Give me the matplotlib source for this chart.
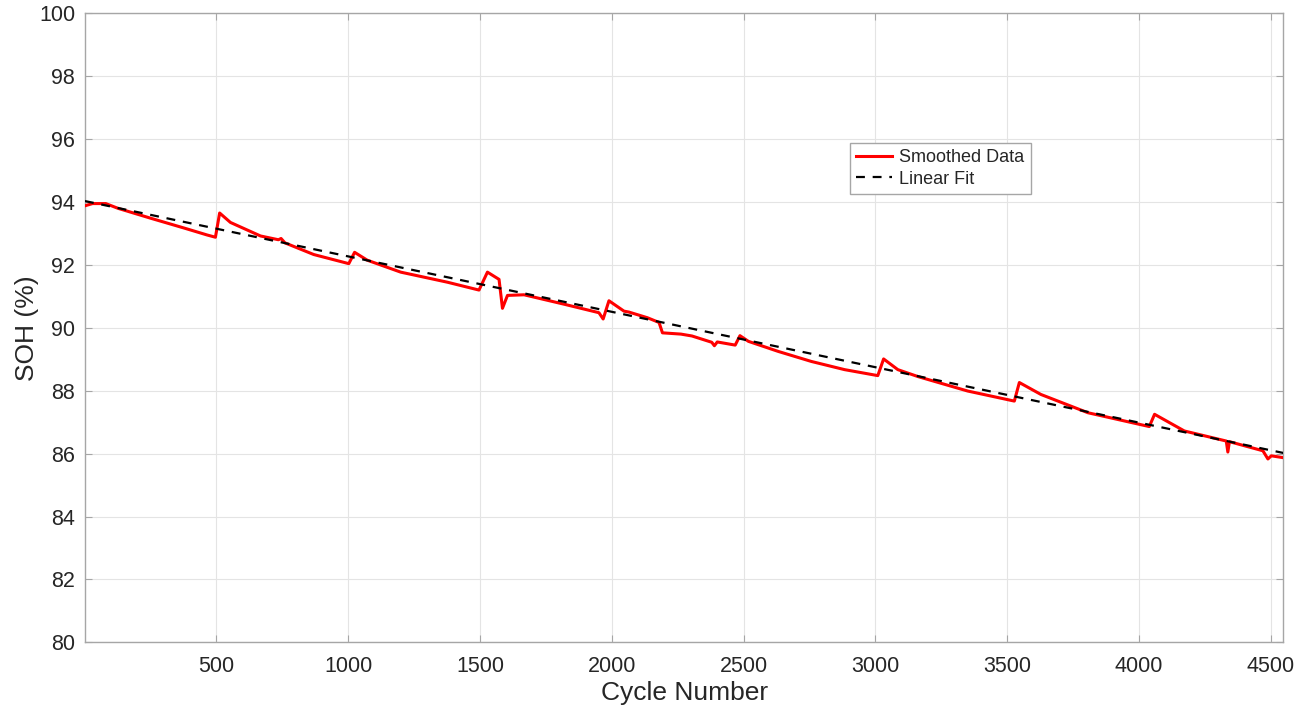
import matplotlib
matplotlib.use("Agg")
import matplotlib.pyplot as plt

plt.rcParams["font.family"] = ["Liberation Sans", "DejaVu Sans"]

# ── 数据 ─────────────────────────────────────────────────
cycles = [1, 30, 80, 126, 252, 378, 465, 496, 512, 553, 667, 735, 745, 760,
          869, 1002, 1024, 1072, 1199, 1376, 1496, 1528, 1572, 1585, 1604,
          1667, 1819, 1951, 1967, 1989, 2046, 2065, 2135, 2179, 2192, 2262,
          2304, 2379, 2389, 2400, 2468, 2486, 2518, 2631, 2757, 2883, 3009,
          3031, 3085, 3161, 3350, 3527, 3546, 3628, 3806, 4039, 4059, 4172,
          4331, 4337, 4343, 4470, 4489, 4502, 4548]
soh = [93.88, 93.95, 93.95, 93.80, 93.48, 93.17, 92.95, 92.88, 93.65, 93.35,
       92.92, 92.80, 92.84, 92.70, 92.33, 92.04, 92.40, 92.15, 91.77, 91.45,
       91.20, 91.77, 91.54, 90.62, 91.03, 91.05, 90.75, 90.48, 90.28, 90.86,
       90.53, 90.50, 90.32, 90.17, 89.84, 89.80, 89.74, 89.54, 89.43, 89.55,
       89.45, 89.75, 89.57, 89.25, 88.93, 88.67, 88.48, 89.01, 88.67, 88.45,
       87.99, 87.67, 88.26, 87.88, 87.30, 86.86, 87.25, 86.72, 86.40, 86.05,
       86.38, 86.09, 85.83, 85.93, 85.87]

fit_x = [1, 4548]
fit_y = [94.03, 86.02]

x_ticks = [500, 1000, 1500, 2000, 2500, 3000, 3500, 4000, 4500]
y_ticks = list(range(80, 101, 2))

# ── 绘图 ────────────────────────────────────────────────────────
fig = plt.figure(figsize=(13.13, 7.11), dpi=100)
ax = fig.add_axes([0.0647, 0.0966, 0.9128, 0.8847])

ax.plot(cycles, soh, color="#ff0000", linewidth=2.2, label="Smoothed Data", zorder=3)
ax.plot(fit_x, fit_y, color="black", linewidth=1.6, linestyle=(0, (4, 3.5)),
        label="Linear Fit", zorder=4)

ax.set_xlim(1, 4548)
ax.set_ylim(80, 100)
ax.set_xticks(x_ticks)
ax.set_yticks(y_ticks)

ax.grid(True, color="#e4e4e4", linewidth=0.8)
ax.set_axisbelow(True)
for s in ax.spines.values():
    s.set_color("#a6a6a6")
    s.set_linewidth(1.0)
ax.tick_params(direction="in", top=True, right=True, length=5,
               color="#a6a6a6", labelsize=15.5, labelcolor="#262626")
ax.tick_params(axis="x", pad=10)
ax.tick_params(axis="y", pad=7)

ax.set_xlabel("Cycle Number", fontsize=19, color="#262626", labelpad=3)
ax.set_ylabel("SOH (%)", fontsize=19, color="#262626", labelpad=0)

leg = ax.legend(loc="upper left", bbox_to_anchor=(0.638, 0.794), fontsize=13,
                fancybox=False, framealpha=1, edgecolor="#a6a6a6",
                handlelength=2.0, handletextpad=0.4, borderpad=0.35,
                labelspacing=0.25, borderaxespad=0)
leg.get_frame().set_linewidth(1.0)
for t in leg.get_texts():
    t.set_color("#262626")

fig.savefig("out.png", dpi=100)
